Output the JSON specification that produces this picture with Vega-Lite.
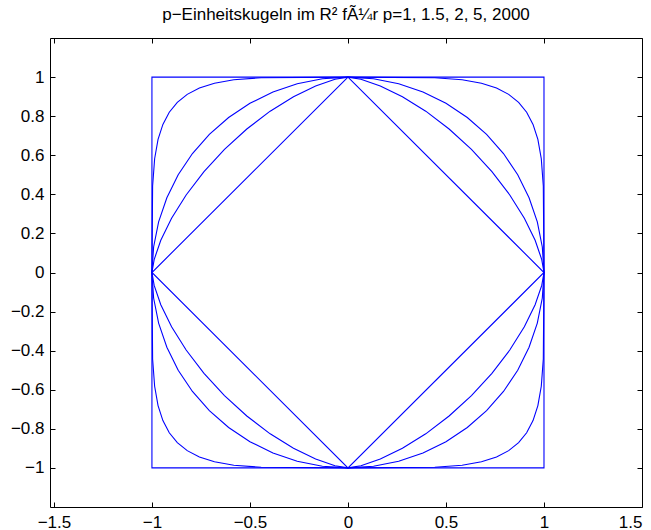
{
  "$schema": "https://vega.github.io/schema/vega-lite/v6.json",
  "width": 592,
  "height": 469,
  "autosize": {"type": "none"},
  "padding": {"left": 50, "top": 38, "right": 9, "bottom": 23},
  "background": "white",
  "title": {
    "text": "p−Einheitskugeln im R² fÃ¼r p=1, 1.5, 2, 5, 2000",
    "font": "Liberation Sans",
    "fontSize": 17,
    "fontWeight": "normal",
    "color": "black",
    "anchor": "middle",
    "frame": "group",
    "baseline": "alphabetic",
    "offset": 1
  },
  "config": {
    "view": {"stroke": "black", "strokeWidth": 1},
    "axis": {
      "domain": false,
      "grid": false,
      "title": null,
      "tickSize": -5,
      "tickColor": "black",
      "tickWidth": 1,
      "labelFont": "Liberation Sans",
      "labelFontSize": 17,
      "labelColor": "black",
      "labelPadding": 11
    }
  },
  "data": {
    "values": [
      {"p": "1", "x": 0, "y": 1}, {"p": "1", "x": 1, "y": 0}, {"p": "1", "x": 0, "y": -1}, {"p": "1", "x": -1, "y": 0}, {"p": "1", "x": 0, "y": 1},
      {"p": "2000", "x": 1, "y": 0}, {"p": "2000", "x": 1, "y": 1}, {"p": "2000", "x": -1, "y": 1}, {"p": "2000", "x": -1, "y": -1}, {"p": "2000", "x": 1, "y": -1}, {"p": "2000", "x": 1, "y": 0},

      {"p": "2", "x": 1, "y": 0}, {"p": "2", "x": 0.99144, "y": 0.13053}, {"p": "2", "x": 0.96593, "y": 0.25882}, {"p": "2", "x": 0.92388, "y": 0.38268}, {"p": "2", "x": 0.86603, "y": 0.5}, {"p": "2", "x": 0.79335, "y": 0.60876}, {"p": "2", "x": 0.70711, "y": 0.70711}, {"p": "2", "x": 0.60876, "y": 0.79335}, {"p": "2", "x": 0.5, "y": 0.86603}, {"p": "2", "x": 0.38268, "y": 0.92388}, {"p": "2", "x": 0.25882, "y": 0.96593}, {"p": "2", "x": 0.13053, "y": 0.99144}, {"p": "2", "x": 0, "y": 1},
      {"p": "2", "x": -0.13053, "y": 0.99144}, {"p": "2", "x": -0.25882, "y": 0.96593}, {"p": "2", "x": -0.38268, "y": 0.92388}, {"p": "2", "x": -0.5, "y": 0.86603}, {"p": "2", "x": -0.60876, "y": 0.79335}, {"p": "2", "x": -0.70711, "y": 0.70711}, {"p": "2", "x": -0.79335, "y": 0.60876}, {"p": "2", "x": -0.86603, "y": 0.5}, {"p": "2", "x": -0.92388, "y": 0.38268}, {"p": "2", "x": -0.96593, "y": 0.25882}, {"p": "2", "x": -0.99144, "y": 0.13053}, {"p": "2", "x": -1, "y": 0},
      {"p": "2", "x": -0.99144, "y": -0.13053}, {"p": "2", "x": -0.96593, "y": -0.25882}, {"p": "2", "x": -0.92388, "y": -0.38268}, {"p": "2", "x": -0.86603, "y": -0.5}, {"p": "2", "x": -0.79335, "y": -0.60876}, {"p": "2", "x": -0.70711, "y": -0.70711}, {"p": "2", "x": -0.60876, "y": -0.79335}, {"p": "2", "x": -0.5, "y": -0.86603}, {"p": "2", "x": -0.38268, "y": -0.92388}, {"p": "2", "x": -0.25882, "y": -0.96593}, {"p": "2", "x": -0.13053, "y": -0.99144}, {"p": "2", "x": 0, "y": -1},
      {"p": "2", "x": 0.13053, "y": -0.99144}, {"p": "2", "x": 0.25882, "y": -0.96593}, {"p": "2", "x": 0.38268, "y": -0.92388}, {"p": "2", "x": 0.5, "y": -0.86603}, {"p": "2", "x": 0.60876, "y": -0.79335}, {"p": "2", "x": 0.70711, "y": -0.70711}, {"p": "2", "x": 0.79335, "y": -0.60876}, {"p": "2", "x": 0.86603, "y": -0.5}, {"p": "2", "x": 0.92388, "y": -0.38268}, {"p": "2", "x": 0.96593, "y": -0.25882}, {"p": "2", "x": 0.99144, "y": -0.13053}, {"p": "2", "x": 1, "y": 0},

      {"p": "1.5", "x": 1, "y": 0}, {"p": "1.5", "x": 0.9886, "y": 0.06622}, {"p": "1.5", "x": 0.95483, "y": 0.16494}, {"p": "1.5", "x": 0.89982, "y": 0.27785}, {"p": "1.5", "x": 0.82548, "y": 0.39685}, {"p": "1.5", "x": 0.73441, "y": 0.51595}, {"p": "1.5", "x": 0.62996, "y": 0.62996}, {"p": "1.5", "x": 0.51595, "y": 0.73441}, {"p": "1.5", "x": 0.39685, "y": 0.82548}, {"p": "1.5", "x": 0.27785, "y": 0.89982}, {"p": "1.5", "x": 0.16494, "y": 0.95483}, {"p": "1.5", "x": 0.06622, "y": 0.9886}, {"p": "1.5", "x": 0, "y": 1},
      {"p": "1.5", "x": -0.06622, "y": 0.9886}, {"p": "1.5", "x": -0.16494, "y": 0.95483}, {"p": "1.5", "x": -0.27785, "y": 0.89982}, {"p": "1.5", "x": -0.39685, "y": 0.82548}, {"p": "1.5", "x": -0.51595, "y": 0.73441}, {"p": "1.5", "x": -0.62996, "y": 0.62996}, {"p": "1.5", "x": -0.73441, "y": 0.51595}, {"p": "1.5", "x": -0.82548, "y": 0.39685}, {"p": "1.5", "x": -0.89982, "y": 0.27785}, {"p": "1.5", "x": -0.95483, "y": 0.16494}, {"p": "1.5", "x": -0.9886, "y": 0.06622}, {"p": "1.5", "x": -1, "y": 0},
      {"p": "1.5", "x": -0.9886, "y": -0.06622}, {"p": "1.5", "x": -0.95483, "y": -0.16494}, {"p": "1.5", "x": -0.89982, "y": -0.27785}, {"p": "1.5", "x": -0.82548, "y": -0.39685}, {"p": "1.5", "x": -0.73441, "y": -0.51595}, {"p": "1.5", "x": -0.62996, "y": -0.62996}, {"p": "1.5", "x": -0.51595, "y": -0.73441}, {"p": "1.5", "x": -0.39685, "y": -0.82548}, {"p": "1.5", "x": -0.27785, "y": -0.89982}, {"p": "1.5", "x": -0.16494, "y": -0.95483}, {"p": "1.5", "x": -0.06622, "y": -0.9886}, {"p": "1.5", "x": 0, "y": -1},
      {"p": "1.5", "x": 0.06622, "y": -0.9886}, {"p": "1.5", "x": 0.16494, "y": -0.95483}, {"p": "1.5", "x": 0.27785, "y": -0.89982}, {"p": "1.5", "x": 0.39685, "y": -0.82548}, {"p": "1.5", "x": 0.51595, "y": -0.73441}, {"p": "1.5", "x": 0.62996, "y": -0.62996}, {"p": "1.5", "x": 0.73441, "y": -0.51595}, {"p": "1.5", "x": 0.82548, "y": -0.39685}, {"p": "1.5", "x": 0.89982, "y": -0.27785}, {"p": "1.5", "x": 0.95483, "y": -0.16494}, {"p": "1.5", "x": 0.9886, "y": -0.06622}, {"p": "1.5", "x": 1, "y": 0},

      {"p": "5", "x": 1, "y": 0}, {"p": "5", "x": 0.99657, "y": 0.44289}, {"p": "5", "x": 0.98623, "y": 0.58236}, {"p": "5", "x": 0.96883, "y": 0.68099}, {"p": "5", "x": 0.94409, "y": 0.75786}, {"p": "5", "x": 0.91155, "y": 0.81994}, {"p": "5", "x": 0.87055, "y": 0.87055}, {"p": "5", "x": 0.81994, "y": 0.91155}, {"p": "5", "x": 0.75786, "y": 0.94409}, {"p": "5", "x": 0.68099, "y": 0.96883}, {"p": "5", "x": 0.58236, "y": 0.98623}, {"p": "5", "x": 0.44289, "y": 0.99657}, {"p": "5", "x": 0, "y": 1},
      {"p": "5", "x": -0.44289, "y": 0.99657}, {"p": "5", "x": -0.58236, "y": 0.98623}, {"p": "5", "x": -0.68099, "y": 0.96883}, {"p": "5", "x": -0.75786, "y": 0.94409}, {"p": "5", "x": -0.81994, "y": 0.91155}, {"p": "5", "x": -0.87055, "y": 0.87055}, {"p": "5", "x": -0.91155, "y": 0.81994}, {"p": "5", "x": -0.94409, "y": 0.75786}, {"p": "5", "x": -0.96883, "y": 0.68099}, {"p": "5", "x": -0.98623, "y": 0.58236}, {"p": "5", "x": -0.99657, "y": 0.44289}, {"p": "5", "x": -1, "y": 0},
      {"p": "5", "x": -0.99657, "y": -0.44289}, {"p": "5", "x": -0.98623, "y": -0.58236}, {"p": "5", "x": -0.96883, "y": -0.68099}, {"p": "5", "x": -0.94409, "y": -0.75786}, {"p": "5", "x": -0.91155, "y": -0.81994}, {"p": "5", "x": -0.87055, "y": -0.87055}, {"p": "5", "x": -0.81994, "y": -0.91155}, {"p": "5", "x": -0.75786, "y": -0.94409}, {"p": "5", "x": -0.68099, "y": -0.96883}, {"p": "5", "x": -0.58236, "y": -0.98623}, {"p": "5", "x": -0.44289, "y": -0.99657}, {"p": "5", "x": 0, "y": -1},
      {"p": "5", "x": 0.44289, "y": -0.99657}, {"p": "5", "x": 0.58236, "y": -0.98623}, {"p": "5", "x": 0.68099, "y": -0.96883}, {"p": "5", "x": 0.75786, "y": -0.94409}, {"p": "5", "x": 0.81994, "y": -0.91155}, {"p": "5", "x": 0.87055, "y": -0.87055}, {"p": "5", "x": 0.91155, "y": -0.81994}, {"p": "5", "x": 0.94409, "y": -0.75786}, {"p": "5", "x": 0.96883, "y": -0.68099}, {"p": "5", "x": 0.98623, "y": -0.58236}, {"p": "5", "x": 0.99657, "y": -0.44289}, {"p": "5", "x": 1, "y": 0}
    ]
  },
  "layer": [
    {
      "mark": {"type": "line", "color": "#0000ff", "stroke": "#0000ff", "strokeWidth": 1.1, "clip": true},
      "encoding": {
        "x": {
          "field": "x", "type": "quantitative",
          "scale": {"domain": [-1.52, 1.5], "nice": false, "zero": false},
          "axis": {"orient": "bottom", "values": [-1.5, -1, -0.5, 0, 0.5, 1, 1.5], "format": "~g", "labelPadding": 12}
        },
        "y": {
          "field": "y", "type": "quantitative",
          "scale": {"domain": [-1.2, 1.2], "nice": false, "zero": false},
          "axis": {"orient": "left", "values": [-1, -0.8, -0.6, -0.4, -0.2, 0, 0.2, 0.4, 0.6, 0.8, 1], "format": "~g", "labelPadding": 11}
        },
        "detail": {"field": "p", "type": "nominal"},
        "order": {"value": null}
      }
    },
    {
      "mark": {"type": "point", "opacity": 0},
      "encoding": {
        "x": {
          "field": "x", "type": "quantitative",
          "scale": {"domain": [-1.52, 1.5], "nice": false, "zero": false},
          "axis": {"orient": "top", "values": [-1.5, -1, -0.5, 0, 0.5, 1, 1.5], "labels": false}
        },
        "y": {
          "field": "y", "type": "quantitative",
          "scale": {"domain": [-1.2, 1.2], "nice": false, "zero": false},
          "axis": {"orient": "right", "values": [-1, -0.8, -0.6, -0.4, -0.2, 0, 0.2, 0.4, 0.6, 0.8, 1], "labels": false}
        }
      }
    }
  ],
  "resolve": {"axis": {"x": "independent", "y": "independent"}}
}
